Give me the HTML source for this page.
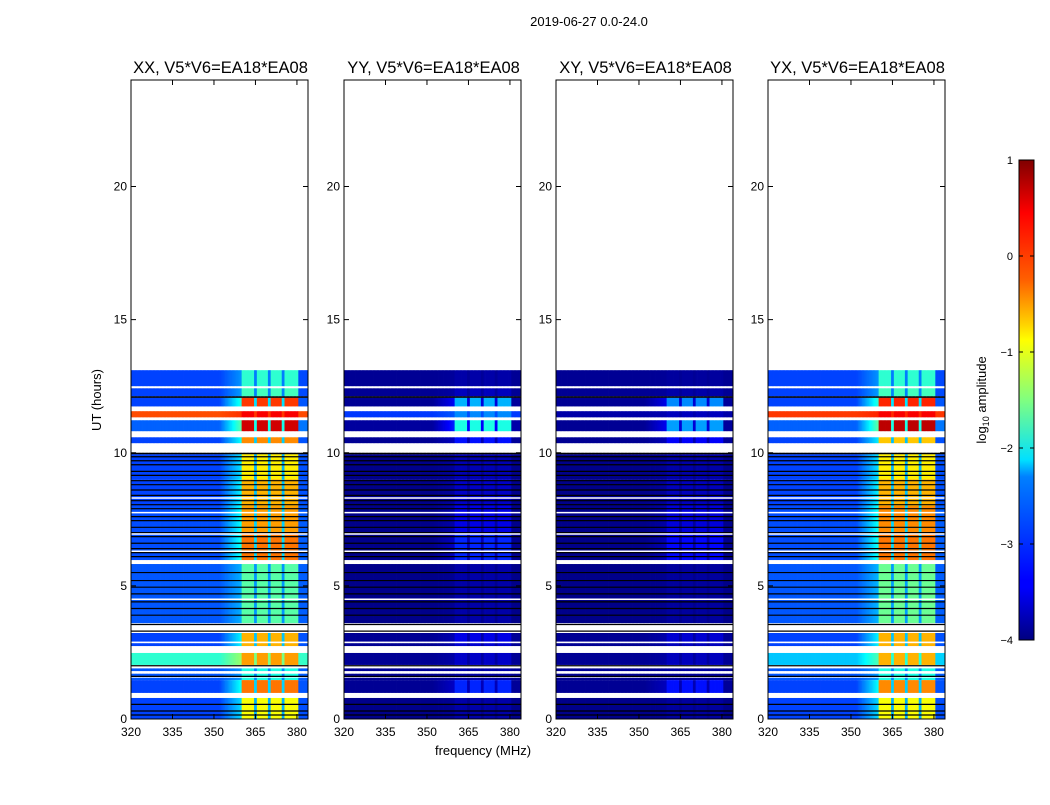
<!DOCTYPE html>
<html><head><meta charset="utf-8">
<style>
body{margin:0;background:#fff;width:1050px;height:800px;overflow:hidden;font-family:"Liberation Sans",sans-serif;}
svg text{font-family:"Liberation Sans",sans-serif;}
</style></head>
<body>
<svg id="fig" width="1050" height="800" xmlns="http://www.w3.org/2000/svg">
<defs>
<linearGradient id="jet" x1="0" y1="1" x2="0" y2="0">
<stop offset="0" stop-color="#000080"/><stop offset="0.11" stop-color="#0000ff"/>
<stop offset="0.125" stop-color="#0000ff"/><stop offset="0.34" stop-color="#0080ff"/>
<stop offset="0.375" stop-color="#00e0ff"/><stop offset="0.5" stop-color="#80ff80"/>
<stop offset="0.625" stop-color="#ffff00"/><stop offset="0.66" stop-color="#ffd000"/>
<stop offset="0.75" stop-color="#ff6000"/><stop offset="0.89" stop-color="#ff0000"/>
<stop offset="1" stop-color="#800000"/>
</linearGradient>
</defs>
<text x="589" y="26" font-size="13" text-anchor="middle">2019-06-27 0.0-24.0</text>
<g id="panels"></g>
<text transform="translate(101,400) rotate(-90)" font-size="13" text-anchor="middle">UT (hours)</text>
<text x="483" y="755" font-size="13" text-anchor="middle">frequency (MHz)</text>
<g>
<rect x="1019" y="160" width="15" height="480" fill="url(#jet)" stroke="#000" stroke-width="1"/>
<g id="cbticks"></g>
<text transform="translate(986,400) rotate(-90)" font-size="13" text-anchor="middle">log<tspan font-size="9" dy="3">10</tspan><tspan dy="-3"> amplitude</tspan></text>
</g>
</svg>
<script>
// ---- data ----
const panelTitles=["XX, V5*V6=EA18*EA08","YY, V5*V6=EA18*EA08","XY, V5*V6=EA18*EA08","YX, V5*V6=EA18*EA08"];
const xTicks=[320,335,350,365,380];
const yTicks=[0,5,10,15,20];
const cbTicks=[1,0,-1,-2,-3,-4];
// time rows (hours); null = flagged (white), -9 = black
const rowStart=[12.50,12.42,12.12,12.06,11.74,11.56,11.33,11.22,10.81,10.58,10.36,10.00,9.94,9.00,8.00,7.00,5.97,5.82,3.60,3.23,2.90,2.85,2.74,2.48,2.03,1.90,1.80,1.70,1.60,1.55,1.46,0.98,0.79,0.00];
const rowEnd  =[13.10,12.50,12.42,12.12,12.06,11.74,11.56,11.33,11.22,10.81,10.58,10.36,10.00,9.94,9.00,8.00,7.00,5.97,5.82,3.60,3.23,2.90,2.85,2.74,2.48,2.03,1.90,1.80,1.70,1.60,1.55,1.46,0.98,0.79];
const xxBg  =[-3.05,null,-3.05,-9,-3.05,null,0.0,null,-2.9,null,-3.05,null,-9,-3.05,-3.05,-3.0,-3.0,null,-2.95,null,-3.05,null,-3.05,null,-1.9,null,-2.95,null,-2.95,null,-2.95,-3.05,null,-3.05];
const xxBand=[-1.9,null,-1.8,-9,0.1,null,0.4,null,0.6,null,-0.3,null,-9,-0.8,-0.5,-0.4,-0.2,null,-1.7,null,-0.5,null,-0.5,null,-0.4,null,-2.0,null,-2.0,null,-2.0,-0.2,null,-0.9];
const yyBg  =[-3.9,null,-3.9,-9,-3.9,null,-3.1,null,-3.85,null,-3.9,null,-9,-3.95,-3.95,-3.95,-3.95,null,-3.95,null,-3.9,null,-3.9,null,-3.9,null,-3.9,null,-3.9,null,-3.9,-3.9,null,-3.95];
const yyBand=[-3.8,null,-3.7,-9,-2.5,null,-2.7,null,-2.0,null,-3.3,null,-9,-3.75,-3.65,-3.5,-3.2,null,-3.8,null,-3.5,null,-3.6,null,-3.65,null,-3.8,null,-3.8,null,-3.8,-3.2,null,-3.8];
const xyBg  =[-3.9,null,-3.9,-9,-3.9,null,-3.8,null,-3.9,null,-3.9,null,-9,-3.95,-3.95,-3.95,-3.95,null,-3.95,null,-3.9,null,-3.9,null,-3.9,null,-3.9,null,-3.9,null,-3.9,-3.9,null,-3.95];
const xyBand=[-3.85,null,-3.8,-9,-2.7,null,-3.7,null,-2.6,null,-3.4,null,-9,-3.8,-3.7,-3.55,-3.35,null,-3.85,null,-3.6,null,-3.7,null,-3.7,null,-3.85,null,-3.85,null,-3.85,-3.3,null,-3.85];
const yxBg  =[-3.05,null,-3.05,-9,-3.05,null,0.1,null,-2.9,null,-3.05,null,-9,-3.05,-3.05,-3.0,-3.0,null,-2.95,null,-3.05,null,-3.05,null,-2.4,null,-2.95,null,-2.95,null,-2.95,-3.05,null,-3.05];
const yxBand=[-1.9,null,-1.8,-9,0.2,null,0.4,null,0.7,null,-0.6,null,-9,-0.8,-0.5,-0.3,-0.2,null,-1.6,null,-0.5,null,-0.5,null,-0.5,null,-2.0,null,-2.0,null,-2.0,-0.3,null,-0.9];
const blackLines=[9.85,9.7,9.55,9.3,9.15,8.95,8.8,8.6,8.4,8.2,8.05,7.9,7.6,7.45,7.2,7.0,6.85,6.6,6.4,6.25,6.1,5.5,5.2,4.95,4.7,4.4,4.15,3.9,3.55,3.3,2.0,1.6,0.55,0.3,0.15];
const whiteLines=[8.3,7.75,6.95,6.3,4.5,2.88];
const polBg=[xxBg,yyBg,xyBg,yxBg], polBand=[xxBand,yyBand,xyBand,yxBand];

// ---- layout ----
const panelX=[131,344,556,768], PW=177, PT=80, PB=719;
const fMin=320,fMax=384,hMin=0,hMax=24;
const NS="http://www.w3.org/2000/svg";
function xs(p,f){return panelX[p]+(f-fMin)/(fMax-fMin)*PW;}
function ys(h){return PB-(h-hMin)/(hMax-hMin)*(PB-PT);}
function jet(v){
  if(v<-8) return "#000";
  let t=Math.max(0,Math.min(1,(v+4)/5));
  const c=x=>Math.round(255*Math.max(0,Math.min(1,1.5-Math.abs(4*t-x))));
  return `rgb(${c(3)},${c(2)},${c(1)})`;
}
function weight(f){
  if(f<352) return 0;
  if(f<360) return 0.35*(f-352)/8;
  if(f>=380.5) return 0.03;
  for(const d of [365,370,375]) if(Math.abs(f-d)<0.5) return 0.25;
  return 1;
}
function mk(tag,attrs,parent){const e=document.createElementNS(NS,tag);for(const k in attrs)e.setAttribute(k,attrs[k]);parent.appendChild(e);return e;}
const root=document.getElementById('panels');
const df=0.5;
for(let p=0;p<4;p++){
  const g=mk('g',{},root);
  
  
  const hm=mk('g',{},g);
  
  
  for(let r=0;r<rowStart.length;r++){
    const bg=polBg[p][r], bd=polBand[p][r];
    if(bg===null) continue;
    const y0=ys(rowEnd[r]), y1=ys(rowStart[r]);
    for(let f=fMin;f<fMax;f+=df){
      const v=(bg<-8)?-9:bg+(bd-bg)*weight(f+df/2);
      const c=mk('rect',{x:xs(p,f).toFixed(2),y:y0.toFixed(2),width:(xs(p,f+df)-xs(p,f)+0.4).toFixed(2),height:(y1-y0).toFixed(2),fill:jet(v)},hm);
      
      
    }
  }
  for(const h of blackLines){
    const l=mk('line',{x1:panelX[p],x2:panelX[p]+PW,y1:ys(h),y2:ys(h),stroke:'#000','stroke-width':1.2},g);
    
    
  }
  for(const h of whiteLines){
    const l=mk('line',{x1:panelX[p],x2:panelX[p]+PW,y1:ys(h),y2:ys(h),stroke:'#fff','stroke-width':1.5},g);
    
    
  }
  const fr=mk('rect',{x:panelX[p],y:PT,width:PW,height:PB-PT,fill:'none',stroke:'#000','stroke-width':1},g);
  
  
  const t=mk('text',{x:panelX[p]+PW/2+1,y:73,'font-size':16.5,'text-anchor':'middle'},g);
  t.textContent=panelTitles[p];
  
  
  for(const v of xTicks){
    const x=xs(p,v);
    mk('line',{x1:x,x2:x,y1:PB,y2:PB-5,stroke:'#000'},g);
    mk('line',{x1:x,x2:x,y1:PT,y2:PT+5,stroke:'#000'},g);
    const tx=mk('text',{x:x,y:PB+17,'font-size':12,'text-anchor':'middle'},g);
    tx.textContent=v;
    
    
  }
  for(const v of yTicks){
    const y=ys(v);
    mk('line',{x1:panelX[p],x2:panelX[p]+5,y1:y,y2:y,stroke:'#000'},g);
    mk('line',{x1:panelX[p]+PW,x2:panelX[p]+PW-5,y1:y,y2:y,stroke:'#000'},g);
    const ty=mk('text',{x:panelX[p]-4,y:y+4,'font-size':12,'text-anchor':'end'},g);
    ty.textContent=v;
    
    
  }
}
const cb=document.getElementById('cbticks');
for(const v of cbTicks){
  const y=160+(1-v)/5*480;
  mk('line',{x1:1019,x2:1023,y1:y,y2:y,stroke:'#000'},cb);
  mk('line',{x1:1034,x2:1030,y1:y,y2:y,stroke:'#000'},cb);
  const t=mk('text',{x:1013,y:y+4,'font-size':11,'text-anchor':'end'},cb);
  t.textContent=v<0?'\u2212'+(-v):v;
  
  
}
</script>
</body></html>
